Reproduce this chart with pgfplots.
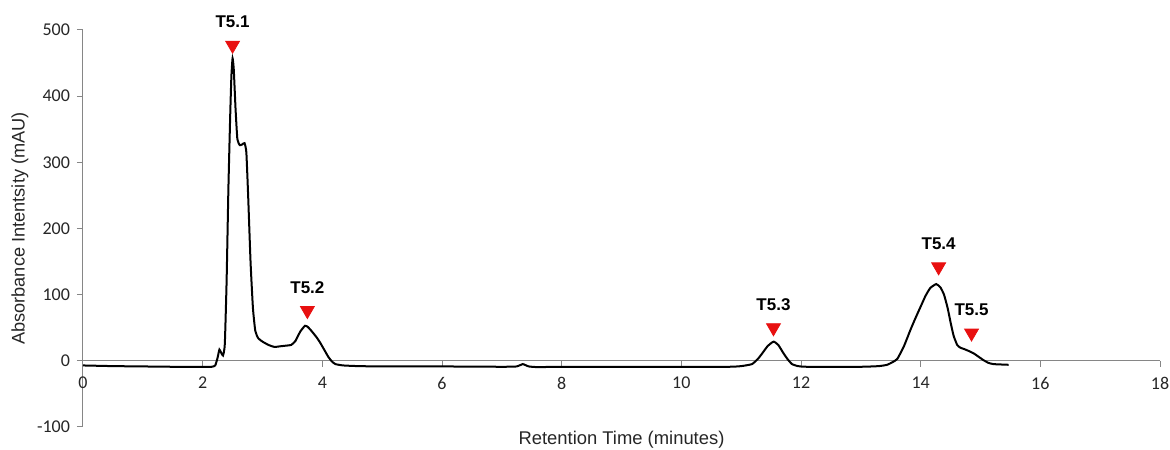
\documentclass[border=0pt]{standalone}
\usepackage{pgfplots}
\pgfplotsset{compat=1.18}
\usepackage{fontspec}
\setmainfont{Liberation Sans}
\newfontfamily\tickfont{Carlito}
\definecolor{axisgray}{HTML}{868686}
\definecolor{textgray}{HTML}{262626}
\definecolor{tri}{HTML}{E81010}
\pgfplotstableread{
x y
0 -7
0.5 -8
1.0 -8.5
1.5 -9
2.0 -9
2.15 -9
2.21 -7
2.25 5
2.28 17
2.31 12
2.34 8
2.37 25
2.40 120
2.43 260
2.46 370
2.48 430
2.50 457
2.52 440
2.55 380
2.58 335
2.62 326
2.66 327
2.70 329
2.73 315
2.76 250
2.80 150
2.84 80
2.88 45
2.93 34
3.00 29
3.10 24
3.20 21
3.30 22
3.40 23
3.48 24
3.55 30
3.63 44
3.71 53
3.76 51
3.82 45
3.90 36
3.96 28
4.03 17
4.10 6
4.16 -1
4.22 -5
4.35 -7
4.6 -8
5.0 -8.5
6.0 -8.5
7.0 -9
7.25 -8.5
7.35 -5
7.45 -8.5
7.6 -9.5
8.0 -9
9.0 -9
10.0 -9
10.8 -9
11.0 -8
11.18 -5
11.28 3
11.35 11
11.44 22
11.54 29
11.62 24
11.71 11
11.78 2
11.85 -5
11.95 -8
12.1 -9
13.0 -9
13.3 -8
13.44 -6
13.53 -2
13.61 3
13.72 22
13.83 47
13.92 66
14.0 82
14.08 98
14.16 110
14.26 116
14.33 111
14.39 100
14.45 80
14.50 58
14.55 38
14.61 24
14.66 20
14.72 18
14.80 15
14.89 11
14.97 6
15.05 1
15.13 -3
15.22 -5
15.47 -6
}\chrom
\pgfplotstableread{
x y lab
2.50 477 T5.1
3.75 76 T5.2
11.54 50 T5.3
14.30 142 T5.4
14.85 42 T5.5
}\peaks
\begin{document}
\begin{tikzpicture}
\begin{axis}[name=ax, scale only axis, width=538.5pt, height=198.5pt,
  xmin=0, xmax=18, ymin=-100, ymax=500,
  axis x line=middle, axis y line=left,
  axis line style={-, draw=axisgray, line width=0.5pt},
  hide obscured x ticks=false,
  xtick={0,2,...,18}, ytick={-100,0,...,500},
  tick style={draw=axisgray, line width=0.5pt},
  xtick align=outside, ytick align=outside,
  major tick length=3pt,
  /pgf/number format/assume math mode=true,
  ticklabel style={font=\tickfont\fontsize{9}{10}\selectfont, text=textgray},
  xticklabel style={yshift=-1.5pt},
  clip=false,
  xlabel={Retention Time (minutes)},
  ylabel={Absorbance Intentsity (mAU)},
  xlabel style={at={(axis description cs:0.5,-0.0327)}, anchor=center, font=\fontsize{9.2}{10}\selectfont, text=textgray},
  ylabel style={at={(axis description cs:-0.0585,0.5)}, anchor=center, rotate=0, font=\fontsize{9.1}{10}\selectfont, text=textgray},
]
\addplot[black, line width=1pt, smooth, tension=0.3] table[x=x,y=y]{\chrom};
\addplot[only marks, mark=triangle*, mark size=4pt,
  mark options={rotate=180, fill=tri, draw=tri},
  nodes near coords, point meta=explicit symbolic,
  every node near coord/.append style={anchor=south, yshift=5pt, font=\bfseries\fontsize{8.5}{10}\selectfont, text=black}]
  table[x=x,y=y,meta=lab]{\peaks};
\end{axis}
\pgfresetboundingbox
\path[use as bounding box] ([shift={(-41.5pt,-11.5pt)}]ax.south west) rectangle ([shift={(5pt,15pt)}]ax.north east);
\end{tikzpicture}
\end{document}
